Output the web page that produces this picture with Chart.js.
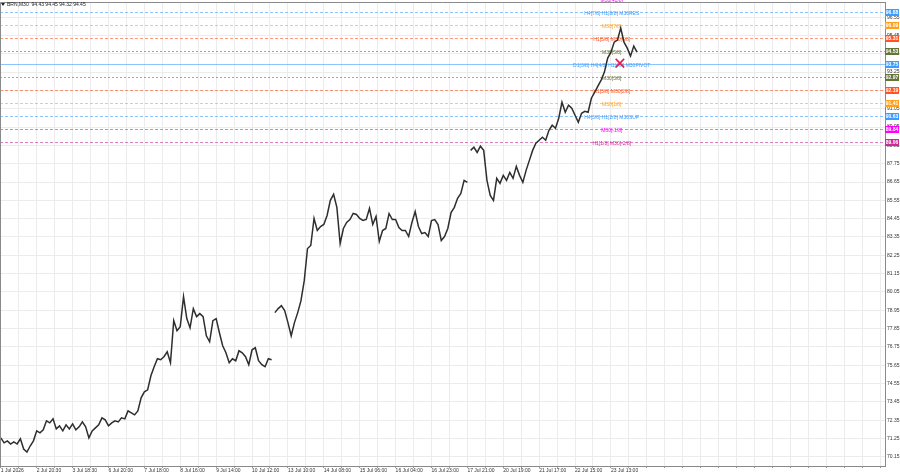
<!DOCTYPE html>
<html><head><meta charset="utf-8">
<script src="https://cdn.jsdelivr.net/npm/chart.js@4.4.1/dist/chart.umd.min.js"></script>
<style>html,body{margin:0;padding:0;background:#fff;overflow:hidden}canvas{display:block}</style>
</head><body>
<canvas id="c" width="900" height="474"></canvas>
<script>
// ---------- data ----------
const symbolHeader = "BRN,M30  94.43 94.45 94.32 94.45";
const barsPerSample = 4;            // each value below = close of every 4th M30 bar
const closes = [
  71.29, 70.99, 71.11, 70.92, 71.05, 70.92, 71.23, 70.62, 70.44, 70.80,
  71.11, 71.71, 71.59, 71.77, 72.31, 72.19, 72.43, 71.83, 72.01, 71.71,
  72.07, 71.83, 72.13, 71.77, 71.95, 72.25, 71.95, 71.29, 71.71, 71.89,
  72.07, 72.49, 72.37, 72.01, 72.19, 72.31, 72.25, 72.49, 72.43, 72.91,
  72.79, 72.67, 72.91, 73.69, 74.05, 74.17, 75.02, 75.56, 76.04, 75.98,
  76.16, 76.46, 75.80, 78.33, 77.72, 77.97, 79.77, 78.45, 77.90, 79.05,
  78.57, 78.75, 78.57, 77.42, 77.06, 78.33, 78.45, 77.60, 76.82, 76.40,
  75.80, 76.04, 75.92, 76.52, 76.40, 76.16, 75.68, 76.58, 76.70, 75.92,
  75.68, 75.56, 76.04, 75.98,
  78.81, 79.05, 79.23, 78.93, 78.21, 77.42,
  78.21, 78.81, 79.53, 80.73, 82.66, 82.84, 84.46, 83.74, 83.98, 84.10,
  84.64, 85.55, 85.91, 85.13, 82.96, 83.86, 84.22, 84.40, 84.76, 84.70,
  84.46, 84.34, 84.40, 85.07, 84.10, 84.58, 83.08, 83.74, 83.86, 84.76,
  84.40, 84.40, 83.92, 83.74, 83.74, 83.38, 84.22, 84.88, 83.98, 83.56,
  83.62, 83.38, 84.34, 84.40, 84.10, 83.14, 83.38, 83.86, 84.82, 85.13,
  85.67, 85.97, 86.75, 86.63,
  88.55, 88.74, 88.43, 88.80, 88.55, 86.75,
  85.85, 85.55, 86.87, 86.57, 87.05, 86.75, 87.23, 86.87, 87.59, 87.05,
  86.63, 87.35, 87.95, 88.55, 88.98, 89.16, 89.34, 89.16, 89.76, 90.06,
  89.88, 90.48, 91.44, 90.84, 91.26, 91.08, 90.66, 90.24, 90.78, 90.90,
  90.84, 91.68, 92.04, 92.41, 92.77, 93.25, 94.09, 94.45, 95.05, 95.17,
  95.90, 95.05, 94.69, 94.21, 94.81, 94.45
];
const sessionBreaks = [84, 144];    // sample indices where a price gap starts a new session
const timeLabels = ["1 Jul 2026","2 Jul 20:30","3 Jul 18:30","6 Jul 20:00","7 Jul 18:00","8 Jul 16:00",
  "9 Jul 14:00","10 Jul 12:00","13 Jul 10:00","14 Jul 08:00","15 Jul 06:00","16 Jul 04:00",
  "16 Jul 23:00","17 Jul 21:00","20 Jul 19:00","21 Jul 17:00","22 Jul 15:00","23 Jul 13:00"];
const barsPerTimeLabel = 44;
const barsPerGrid = 22;
const priceTicks = [70.15,71.25,72.35,73.45,74.55,75.65,76.75,77.85,78.95,80.05,81.15,82.25,83.35,
  84.45,85.55,86.65,87.75,88.85,89.95,91.05,92.15,93.25,94.35,95.45,96.55];
const levelValues = [97.65625, 96.875, 96.09375, 95.3125, 94.53125, 93.75, 92.96875, 92.1875, 91.40625, 90.625, 89.84375, 89.0625];
const levelNames = ["M30[+1/8]","H4[7/8] H1[8/8] M30RES","M30[7/8]","H1[5/8] M30[6/8]","M30[5/8]",
  "D1[3/8] H4[4/8] H1[4/8] M30PIVOT","M30[3/8]","H1[3/8] M30[2/8]","M30[1/8]",
  "H4[3/8] H1[2/8] M30SUP","M30[-1/8]","H1[1/8] M30[-2/8]"];
const levelPriceText = ["97.66","96.88","96.09","95.31","94.53","93.75","92.97","92.19","91.41","90.63","89.84","89.06"];
const levelLabelBar = 749;
const markerBar = 759, markerPrice = 93.79;

// ---------- styles ----------
const levelColors = ['#ff00ff','#3d9cff','#ff9f1c','#ff5522','#65753a','#3d9cff','#65753a','#ff5522','#ff9f1c','#3d9cff','#ff00ff','#cc2a99'];
const levelDash = [[3,2],[3,2],[3,2],[3,2],[2,2],[],[2,2],[3,2],[3,2],[3,2],[3,2],[3,2]];
const FONT = '"Liberation Sans", Arial, sans-serif';

const pricePoints = [];
closes.forEach((v, i) => {
  if (sessionBreaks.includes(i)) pricePoints.push({x: (i - 0.5) * barsPerSample, y: null});
  pricePoints.push({x: i * barsPerSample, y: v});
});

const levelsPlugin = {
  id: 'levels',
  beforeDatasetsDraw(chart) {
    const {ctx, chartArea: ca, scales: {x, y}} = chart;
    ctx.save();
    ctx.beginPath(); ctx.rect(ca.left, ca.top, ca.right - ca.left, ca.bottom - ca.top); ctx.clip();
    levelValues.forEach((v, k) => {
      const py = Math.round(y.getPixelForValue(v)) + 0.5;
      ctx.globalAlpha = 0.6;
      ctx.strokeStyle = levelColors[k]; ctx.lineWidth = 1; ctx.setLineDash(levelDash[k]);
      ctx.beginPath(); ctx.moveTo(ca.left, py); ctx.lineTo(ca.right, py); ctx.stroke();
    });
    ctx.restore();
    ctx.save();
    ctx.font = '5px ' + FONT; ctx.textAlign = 'center'; ctx.textBaseline = 'middle';
    const lx = x.getPixelForValue(levelLabelBar);
    levelValues.forEach((v, k) => {
      const py = y.getPixelForValue(v);
      ctx.fillStyle = levelColors[k];
      ctx.fillText(levelNames[k], lx, py + 2);
    });
    ctx.restore();
  },
  afterDraw(chart) {
    const {ctx, chartArea: ca, scales: {y}} = chart;
    ctx.save();
    ctx.strokeStyle = '#8a8a8a'; ctx.lineWidth = 1;
    ctx.beginPath(); ctx.moveTo(ca.left + 0.5, ca.bottom); ctx.lineTo(ca.left + 0.5, ca.top + 0.5); ctx.lineTo(ca.right, ca.top + 0.5); ctx.stroke();
    ctx.font = 'bold 5px ' + FONT; ctx.textAlign = 'center'; ctx.textBaseline = 'middle';
    levelValues.forEach((v, k) => {
      const py = y.getPixelForValue(v);
      if (py < ca.top) return;
      ctx.fillStyle = levelColors[k];
      ctx.fillRect(ca.right, Math.round(py) - 3, 14, 7);
      ctx.fillStyle = '#fff';
      ctx.fillText(levelPriceText[k], ca.right + 7, py + 0.5);
    });
    ctx.fillStyle = '#222';
    ctx.beginPath(); ctx.moveTo(1, 3); ctx.lineTo(5, 3); ctx.lineTo(3, 6); ctx.closePath(); ctx.fill();
    ctx.font = '5px ' + FONT; ctx.textAlign = 'left'; ctx.textBaseline = 'middle';
    ctx.fillText(symbolHeader, 7, 5);
    ctx.restore();
  }
};

new Chart(document.getElementById('c'), {
  type: 'line',
  data: {
    datasets: [
      { data: [{x: markerBar, y: markerPrice}], showLine: false, pointStyle: 'crossRot',
        pointRadius: 6, pointBorderColor: '#e8194b', pointBorderWidth: 1.6, borderColor: '#e8194b', order: 0 },
      { data: pricePoints, borderColor: '#2e2e2e', borderWidth: 1.5, pointRadius: 0,
        spanGaps: false, tension: 0, order: 1 }
    ]
  },
  options: {
    responsive: false, animation: false, devicePixelRatio: 1,
    layout: { autoPadding: false, padding: { top: 2, left: 0, right: 0, bottom: 0 } },
    plugins: { legend: { display: false }, tooltip: { enabled: false } },
    scales: {
      x: {
        type: 'linear', min: -1, max: 1084,
        afterBuildTicks(s) { const t = []; for (let b = 0; b <= 1084; b += barsPerGrid) t.push({value: b}); s.ticks = t; },
        afterFit(s) { s.height = 8; s.paddingLeft = 0; s.paddingRight = 0; },
        ticks: {
          autoSkip: false, maxRotation: 0, minRotation: 0, align: 'start', padding: 0,
          font: { size: 5, family: FONT }, color: '#333',
          callback(v) { return v % barsPerTimeLabel === 0 ? (timeLabels[v / barsPerTimeLabel] || '') : ''; }
        },
        grid: { color: '#ececec', lineWidth: 1, tickLength: 2, tickColor: '#999' },
        border: { display: true, color: '#8a8a8a' }
      },
      y: {
        position: 'right', min: 69.6, max: 97.46,
        afterBuildTicks(s) { s.ticks = priceTicks.map(v => ({value: v})); },
        afterFit(s) { s.width = 15; s.paddingTop = 0; s.paddingBottom = 0; },
        ticks: { padding: 1, font: { size: 5, family: FONT }, color: '#333',
          callback(v) { return Number(v).toFixed(2); } },
        grid: { color: '#ececec', lineWidth: 1, tickLength: 1, tickColor: '#999' },
        border: { display: true, color: '#8a8a8a' }
      }
    }
  },
  plugins: [levelsPlugin]
});
</script>
</body></html>
